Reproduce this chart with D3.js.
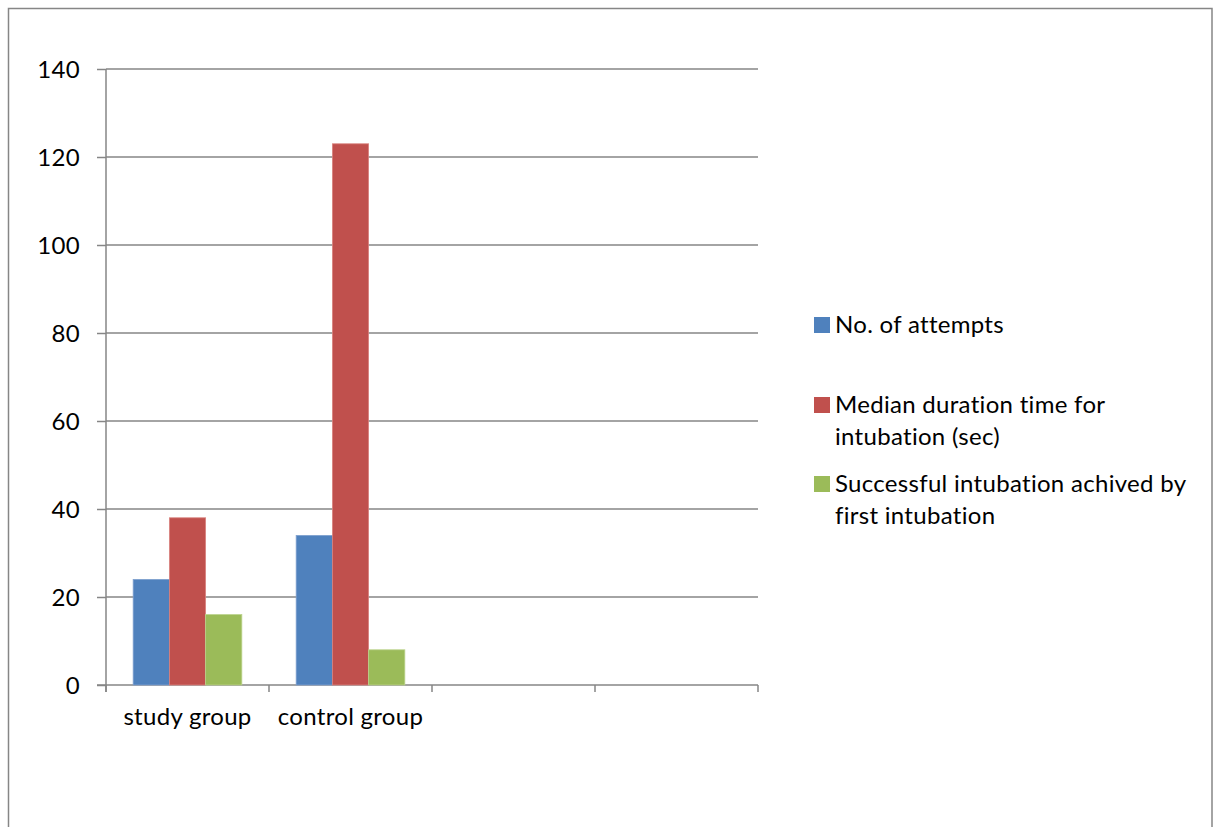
<!DOCTYPE html>
<html>
<head>
<meta charset="utf-8">
<script src="https://cdn.jsdelivr.net/npm/d3@7"></script>
<style>
  html, body { margin: 0; padding: 0; background: #fff; }
  svg { display: block; }
  text { font-family: Lato, "Open Sans", sans-serif; fill: #000; letter-spacing: 0.3px; }
</style>
</head>
<body>
<svg id="chart" width="1214" height="827"></svg>
<script>
// Categories along the x axis (two trailing slots are empty)
const categories = ["study group", "control group", "", ""];
const seriesNames = [
  "No. of attempts",
  "Median duration time for intubation (sec)",
  "Successful intubation achived by first intubation"
];
const legendLines = [
  ["No. of attempts"],
  ["Median duration time for", "intubation (sec)"],
  ["Successful intubation achived by", "first intubation"]
];
const attempts = [24, 34, null, null];
const medianDuration = [38, 123, null, null];
const firstSuccess = [16, 8, null, null];
const yTicks = [0, 20, 40, 60, 80, 100, 120, 140];
const colors = ["#4F81BD", "#C0504D", "#9BBB59"];
const edgeColors = ["#7FA0CF", "#D9837F", "#BBD38B"];

const series = [attempts, medianDuration, firstSuccess];
const FONT = 24;

const svg = d3.select("#chart");

// chart frame
svg.append("rect")
  .attr("x", 8.5).attr("y", 8.5)
  .attr("width", 1203.5).attr("height", 830)
  .attr("fill", "none").attr("stroke", "#868686").attr("stroke-width", 1.5);

const plot = { left: 106, right: 758, top: 69, bottom: 685 };

const y = d3.scaleLinear().domain([0, 140]).range([plot.bottom, plot.top]);
const x0 = d3.scaleBand().domain(d3.range(categories.length))
  .range([plot.left, plot.right]).paddingInner(0).paddingOuter(0);
// gap width 150%: 3 bars take 3/4.5 of a category
const x1 = d3.scaleBand().domain(d3.range(series.length))
  .range([0, x0.bandwidth()]).paddingOuter(0.75).paddingInner(0);

// horizontal gridlines
svg.append("g").selectAll("line").data(yTicks.filter(t => t > 0)).join("line")
  .attr("x1", plot.left).attr("x2", plot.right)
  .attr("y1", d => y(d)).attr("y2", d => y(d))
  .attr("stroke", "#868686").attr("stroke-width", 1.5);

// y axis
const yAxis = d3.axisLeft(y).tickValues(yTicks).tickSize(9).tickPadding(17).tickFormat(d3.format("d"));
const gy = svg.append("g").attr("transform", `translate(${plot.left},0)`).call(yAxis);
gy.attr("font-size", null).attr("font-family", null);
gy.select(".domain").remove();
gy.selectAll(".tick line").attr("stroke", "#868686").attr("stroke-width", 1.5);
gy.selectAll(".tick text").attr("font-size", FONT).attr("fill", "#000").attr("dy", "0.36em");
svg.append("line")
  .attr("x1", plot.left).attr("x2", plot.left)
  .attr("y1", plot.top).attr("y2", plot.bottom + 7)
  .attr("stroke", "#868686").attr("stroke-width", 1.5);

// x axis with boundary ticks between categories
svg.append("line")
  .attr("x1", plot.left - 9).attr("x2", plot.right)
  .attr("y1", plot.bottom).attr("y2", plot.bottom)
  .attr("stroke", "#868686").attr("stroke-width", 1.5);
const boundaries = d3.range(categories.length + 1).map(i =>
  i < categories.length ? x0(i) : x0(categories.length - 1) + x0.bandwidth());
svg.append("g").selectAll("line").data(boundaries).join("line")
  .attr("x1", d => d).attr("x2", d => d)
  .attr("y1", plot.bottom).attr("y2", plot.bottom + 7)
  .attr("stroke", "#868686").attr("stroke-width", 1.5);
svg.append("g").selectAll("text").data(categories).join("text")
  .attr("x", (d, i) => x0(i) + x0.bandwidth() / 2)
  .attr("y", 725)
  .attr("text-anchor", "middle")
  .attr("font-size", FONT)
  .text(d => d);

// bars
series.forEach((vals, s) => {
  svg.append("g").selectAll("rect")
    .data(vals.map((v, i) => ({ v, i })).filter(d => d.v != null))
    .join("rect")
    .attr("x", d => x0(d.i) + x1(s))
    .attr("width", x1.bandwidth())
    .attr("y", d => y(d.v))
    .attr("height", d => y(0) - y(d.v))
    .attr("fill", colors[s])
    .attr("stroke", edgeColors[s])
    .attr("stroke-width", 0.8);
});

// legend
const legendBase = [333, 413, 492];
legendLines.forEach((lines, s) => {
  const g = svg.append("g");
  g.append("rect")
    .attr("x", 814).attr("y", legendBase[s] - 16)
    .attr("width", 16).attr("height", 16)
    .attr("fill", colors[s]);
  lines.forEach((t, k) => {
    g.append("text")
      .attr("x", 835).attr("y", legendBase[s] + k * 32)
      .attr("font-size", FONT)
      .text(t);
  });
});
</script>
</body>
</html>
